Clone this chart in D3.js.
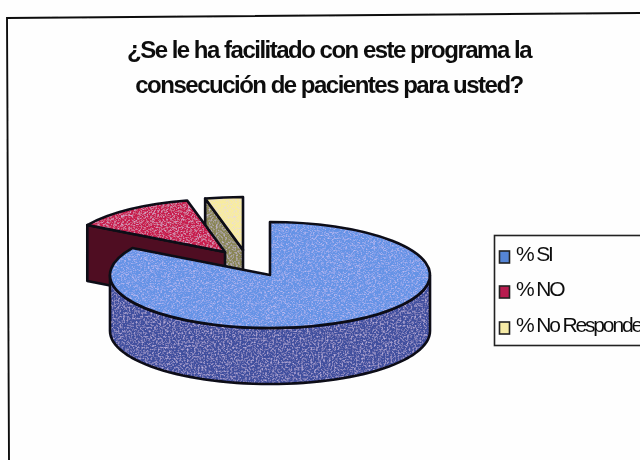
<!DOCTYPE html>
<html><head><meta charset="utf-8">
<script src="https://cdn.jsdelivr.net/npm/d3@7"></script>
<style>html,body{margin:0;padding:0;background:#fff}svg{display:block;font-family:"Liberation Sans",Arial,sans-serif}</style>
</head><body><svg id="c" width="640" height="460"></svg>
<script>
const titleLines = ["¿Se le ha facilitado con este programa la", "consecución de pacientes para usted?"];
const categories = ["% SI", "% NO", "% No Responde"];
const values = [83.5, 12.7, 3.8];
const topColors = ["#6593e6", "#c81f4e", "#f8eca0"];
const sideColors = ["#3f4f9f", "#500a20", "#8a8655"];
const swatchColors = ["#5585d6", "#b81f50", "#f6eba6"];

const svg = d3.select("#c");
const defs = svg.append("defs");
const f = defs.append("filter").attr("id","speck").attr("x","-5%").attr("y","-5%").attr("width","110%").attr("height","110%");
f.append("feTurbulence").attr("type","fractalNoise").attr("baseFrequency","0.55").attr("numOctaves","2").attr("seed","4").attr("result","n");
f.append("feColorMatrix").attr("in","n").attr("type","matrix")
 .attr("values","0 0 0 0 0.72  0 0 0 0 0.62  0 0 0 0 0.92  0 0 0 1.7 -0.78").attr("result","spots");
f.append("feGaussianBlur").attr("in","spots").attr("stdDeviation","0.5").attr("result","soft");
f.append("feComposite").attr("in","soft").attr("in2","SourceAlpha").attr("operator","in").attr("result","clipped");
const m = f.append("feMerge");
m.append("feMergeNode").attr("in","SourceGraphic");
m.append("feMergeNode").attr("in","clipped");
defs.append("filter").attr("id","soft").attr("x","-5%").attr("y","-5%").attr("width","110%").attr("height","110%")
  .append("feGaussianBlur").attr("stdDeviation","0.4");

svg.append("rect").attr("width",640).attr("height",460).attr("fill","#fefefe");
svg.append("path").attr("d",d3.line()([[9,460],[7,18],[640,13]])).attr("fill","none").attr("stroke","#111").attr("stroke-width",1.9).attr("filter","url(#soft)");

// title
svg.append("g").attr("filter","url(#soft)").selectAll("text").data(titleLines).join("text")
  .attr("x",329).attr("y",(d,i)=>58+i*35).attr("text-anchor","middle")
  .attr("font-size",24).attr("font-weight","bold").attr("letter-spacing",-1.5).attr("fill","#111").text(d=>d);

// pie
const rx = 160, ry = 53, depth = 56;
const centers = [[270,275],[225,252],[243,250]];
const pie = d3.pie().sort(null).value(d=>d)(values);
const arc = d3.arc().innerRadius(0).outerRadius(rx);
const pt = (i,a)=>[centers[i][0]+rx*Math.sin(a), centers[i][1]-ry*Math.cos(a)];
const ink = "#0a0a18";
const order = [2,1,0];
const g = svg.append("g").attr("stroke-linejoin","round").attr("filter","url(#soft)");
const shape = (d,fill,transform,plain)=>{
  const attrs = sel => { if(transform) sel.attr("transform",transform); return sel.attr("d",d); };
  attrs(g.append("path")).attr("fill",fill).attr("stroke","none").attr("filter",plain?null:"url(#speck)");
  attrs(g.append("path")).attr("fill","none").attr("stroke",ink).attr("stroke-width",2.6).attr("vector-effect","non-scaling-stroke");
};
order.forEach(i=>{
  const s = pie[i];
  if(i>0){
    const a = pt(i,s.startAngle), c = centers[i];
    shape(d3.line()([a,c,[c[0],c[1]+depth],[a[0],a[1]+depth]])+"Z", sideColors[i], null, i===1);
  } else {
    const from = Math.PI/2, to = 3*Math.PI/2;
    const as = d3.range(0,61).map(k=>from+(to-from)*k/60);
    const upper = as.map(a=>pt(0,a));
    const lower = as.slice().reverse().map(a=>{const p=pt(0,a);return [p[0],p[1]+depth];});
    shape(d3.line()(upper.concat(lower))+"Z", sideColors[0]);
  }
  shape(arc(s), topColors[i], `translate(${centers[i]}) scale(1,${ry/rx})`);
});

// legend
const lg = svg.append("g").attr("filter","url(#soft)");
lg.append("rect").attr("x",494.5).attr("y",235.5).attr("width",160).attr("height",110).attr("fill","#fefefe").attr("stroke","#222").attr("stroke-width",1.6);
const ly = [256,291,327];
const leg = lg.append("g").selectAll("g").data(categories).join("g").attr("transform",(d,i)=>`translate(0,${ly[i]})`);
leg.append("rect").attr("x",499.5).attr("y",-5).attr("width",10).attr("height",12).attr("fill",(d,i)=>swatchColors[i]).attr("stroke","#222").attr("stroke-width",1.6);
leg.append("text").attr("x",516).attr("y",5).attr("font-size",21).attr("letter-spacing",-2.15).attr("fill","#111").text(d=>d);
</script></body></html>
